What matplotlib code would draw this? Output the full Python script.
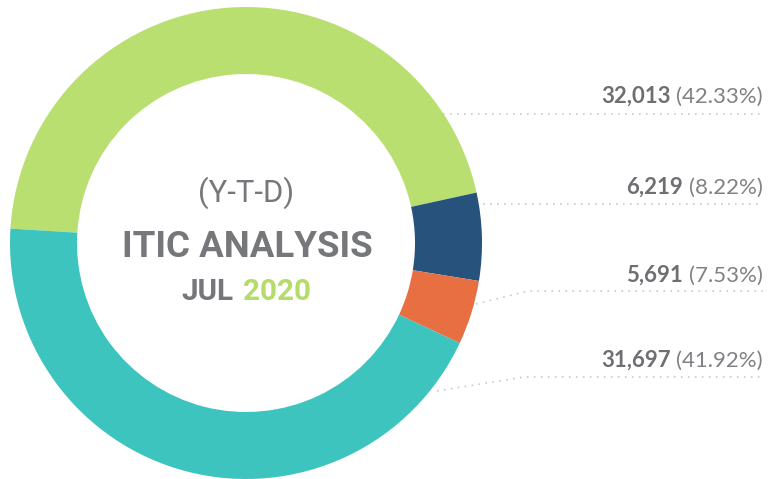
import matplotlib.pyplot as plt

# values shown in the labels
counts = [32013, 6219, 5691, 31697]
pct_labels = ['42.33%', '8.22%', '7.53%', '41.92%']
# slice sizes as drawn in the ring
ring_share = [45.6, 6.0, 4.4, 44.0]
colors = ['#B9DF71', '#26527C', '#E86F42', '#3EC4BF']

W, H = 770, 479
grey = '#76777A'
green_txt = '#B5DC6A'
cond = ['Liberation Sans Narrow', 'Roboto', 'DejaVu Sans']

fig = plt.figure(figsize=(7.7, 4.79), dpi=100)
ax = fig.add_axes([0, 0, 1, 1])

cx, cy, r_out, r_in = 246, H - 243, 236, 169
ax.pie(ring_share, colors=colors, startangle=176.5, counterclock=False,
       radius=r_out, center=(cx, cy),
       wedgeprops=dict(width=r_out - r_in, linewidth=0))
ax.set_xlim(0, W)
ax.set_ylim(0, H)
ax.set_aspect('equal')
ax.axis('off')

fig.canvas.draw()
renderer = fig.canvas.get_renderer()


def width(t):
    return t.get_window_extent(renderer).width


def fit(t, target):
    t.set_fontsize(t.get_fontsize() * target / width(t))


# centre text
t1 = ax.text(246, H - 202, '(Y-T-D)', ha='center', va='baseline', fontsize=30,
             color=grey, family=cond)
fit(t1, 96)
t2 = ax.text(247, H - 257, 'ITIC ANALYSIS', ha='center', va='baseline', fontsize=40,
             color=grey, family=cond, weight='bold')
fit(t2, 250)
t3 = ax.text(0, H - 300, 'JUL', ha='left', va='baseline', fontsize=30,
             color=grey, family=cond, weight='bold')
fit(t3, 52)
t4 = ax.text(0, H - 300, '2020', ha='left', va='baseline', fontsize=t3.get_fontsize(),
             color=green_txt, family=cond, weight='bold')
w3, w4, gap = width(t3), width(t4), 10
x0 = 246 - (w3 + gap + w4) / 2
t3.set_x(x0)
t4.set_x(x0 + w3 + gap)

# right-hand labels
label_base = [103, 194, 282, 367]
line_y = [113.5, 203.5, 291, 377]
leaders = [
    [(443, 113.5)],
    [(483, 203.5)],
    [(476, 304), (528, 291)],
    [(437, 391), (524, 377)],
]
x_right = 763
fs = 15
for i, (c, p) in enumerate(zip(counts, pct_labels)):
    yb = H - label_base[i]
    tp = ax.text(x_right, yb, '(' + p + ')', ha='right', va='baseline',
                 fontsize=fs, color='#808184', family='Lato')
    tn = ax.text(x_right, yb, f'{c:,}', ha='right', va='baseline',
                 fontsize=fs, color='#6E6F72', family='Lato', weight='bold')
    if i == 0:
        fit(tn, 70)
        fs = tn.get_fontsize()
        tp.set_fontsize(fs)
    tn.set_x(x_right - width(tp) - 6)

    pts = leaders[i] + [(x_right, line_y[i])]
    xs = [q[0] for q in pts]
    ys = [H - q[1] for q in pts]
    ax.plot(xs, ys, color='#C9CACC', lw=1.2, linestyle=(0, (1, 3.2)))

fig.savefig('out.png', dpi=100)
